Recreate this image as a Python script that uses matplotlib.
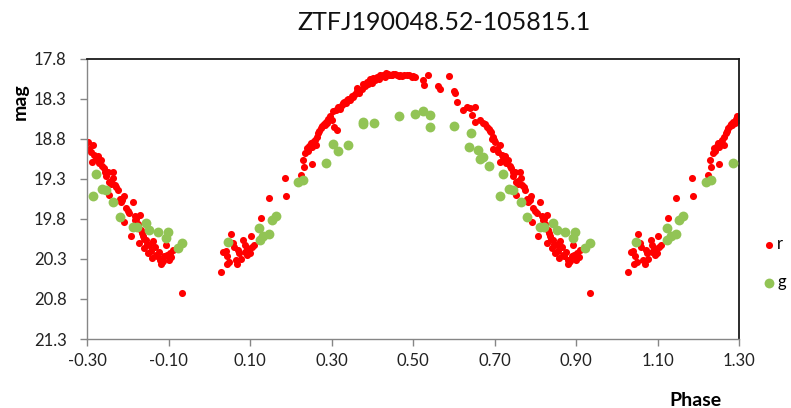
import matplotlib
matplotlib.use("Agg")
import matplotlib.pyplot as plt
import numpy as np

# ── Folded light curve, base phase 0..1 ──
r_phase = [0.028, 0.034, 0.040, 0.044, 0.042, 0.049, 0.053, 0.057, 0.060, 0.065,
           0.068, 0.071, 0.073, 0.077, 0.083, 0.086, 0.087, 0.091, 0.093, 0.099,
           0.102, 0.104, 0.108, 0.126, 0.145, 0.185, 0.188,
           0.224, 0.229, 0.235, 0.239, 0.245, 0.251, 0.255, 0.262, 0.251, 0.267,
           0.273, 0.280, 0.286, 0.292, 0.296, 0.300, 0.304, 0.311, 0.312, 0.306,
           0.316, 0.325, 0.330, 0.337, 0.345, 0.353, 0.361, 0.368, 0.374, 0.382,
           0.390, 0.398, 0.406, 0.415, 0.423, 0.431, 0.437, 0.445, 0.455, 0.464,
           0.232, 0.242, 0.258, 0.270, 0.283, 0.320, 0.334, 0.341, 0.349, 0.358,
           0.365, 0.378, 0.386, 0.394, 0.402, 0.410, 0.419, 0.427, 0.441, 0.450,
           0.460, 0.472, 0.484, 0.496, 0.505, 0.525, 0.527, 0.537, 0.562, 0.566,
           0.588, 0.601, 0.603, 0.608, 0.623, 0.631, 0.640, 0.652, 0.644, 0.652,
           0.664, 0.672, 0.681, 0.689, 0.694, 0.695, 0.468, 0.478, 0.490, 0.500,
           0.690, 0.695, 0.701, 0.705, 0.713, 0.717, 0.721, 0.728, 0.734, 0.712,
           0.740, 0.746, 0.753, 0.762, 0.764, 0.771, 0.753, 0.775, 0.789, 0.783,
           0.795, 0.812, 0.803, 0.791, 0.816, 0.824, 0.829, 0.832, 0.807, 0.836,
           0.828, 0.844, 0.852, 0.840, 0.848, 0.861, 0.865, 0.859, 0.875, 0.879,
           0.883, 0.889, 0.893, 0.900, 0.903, 0.910, 0.933,
           0.676, 0.685, 0.698, 0.708, 0.725, 0.737, 0.750, 0.758, 0.768, 0.779,
           0.800, 0.820, 0.834, 0.846, 0.856, 0.870, 0.886, 0.896, 0.906,
           0.248, 0.264, 0.277, 0.289, 0.328, 0.362, 0.396, 0.433, 0.448, 0.744,
           0.757, 0.786, 0.818, 0.838, 0.868, 0.881]
r_mag = [20.46, 20.22, 20.20, 20.26, 20.36, 20.34, 19.99, 20.10, 20.15, 20.31,
         20.36, 20.19, 20.23, 20.30, 20.06, 20.13, 20.21, 20.17, 20.25, 20.23,
         20.02, 20.15, 20.13, 19.79, 19.54, 19.29, 19.52,
         19.25, 19.07, 18.98, 18.92, 18.89, 18.91, 18.84, 18.88, 19.12, 18.73,
         18.67, 18.62, 18.59, 18.56, 18.52, 18.57, 18.46, 18.44, 18.69, 18.65,
         18.40, 18.38, 18.34, 18.32, 18.32, 18.28, 18.21, 18.23, 18.18, 18.14,
         18.12, 18.10, 18.07, 18.05, 18.02, 18.03, 17.99, 18.01, 17.99, 18.02,
         19.15, 18.95, 18.82, 18.70, 18.63, 18.43, 18.36, 18.30, 18.27, 18.24,
         18.19, 18.12, 18.09, 18.06, 18.04, 18.03, 18.00, 18.00, 18.00, 17.99,
         18.01, 18.02, 18.01, 18.03, 18.03, 18.07, 18.13, 18.01, 18.14, 18.18,
         18.02, 18.20, 18.23, 18.34, 18.44, 18.40, 18.42, 18.40, 18.50, 18.59,
         18.57, 18.61, 18.65, 18.71, 18.80, 18.93, 18.00, 18.00, 18.01, 18.02,
         18.72, 18.78, 18.84, 18.93, 18.88, 19.00, 19.06, 19.11, 19.07, 19.09,
         19.17, 19.27, 19.34, 19.21, 19.29, 19.40, 19.50, 19.44, 19.51, 19.59,
         19.67, 19.59, 19.73, 19.84, 19.77, 19.86, 19.75, 19.94, 20.02, 20.02,
         20.10, 20.06, 20.13, 20.17, 20.23, 20.08, 20.15, 20.29, 20.21, 20.31,
         20.34, 20.27, 20.13, 20.31, 20.23, 20.19, 20.73,
         18.62, 18.68, 18.82, 18.97, 19.02, 19.14, 19.22, 19.33, 19.38, 19.55,
         19.70, 19.80, 19.98, 20.12, 20.20, 20.26, 20.33, 20.25, 20.28,
         18.86, 18.78, 18.64, 18.61, 18.35, 18.17, 18.08, 17.98, 18.00, 19.22,
         19.36, 19.56, 19.82, 20.05, 20.25, 20.36]

g_phase = [0.046, 0.122, 0.124, 0.132, 0.145, 0.153, 0.163, 0.218, 0.230,
           0.286, 0.304, 0.316, 0.341, 0.376, 0.377, 0.404, 0.464, 0.505,
           0.525, 0.541, 0.541, 0.599, 0.642, 0.636, 0.660, 0.664, 0.672,
           0.687, 0.713, 0.721, 0.736, 0.746, 0.764, 0.779, 0.812, 0.821,
           0.843, 0.852, 0.873, 0.897, 0.893, 0.922, 0.933]
g_mag = [20.09, 19.91, 20.06, 20.02, 19.99, 19.81, 19.77, 19.34, 19.32,
         19.10, 18.87, 18.96, 18.88, 18.59, 18.62, 18.61, 18.52, 18.49,
         18.46, 18.50, 18.65, 18.64, 18.73, 18.90, 18.94, 19.06, 19.03,
         19.14, 19.51, 19.24, 19.43, 19.44, 19.59, 19.78, 19.90, 19.90,
         19.85, 19.94, 19.97, 19.96, 20.04, 20.17, 20.10]

X_MIN, X_MAX = -0.30, 1.30
x_ticks = [-0.30, -0.10, 0.10, 0.30, 0.50, 0.70, 0.90, 1.10, 1.30]
y_ticks = [17.8, 18.3, 18.8, 19.3, 19.8, 20.3, 20.8, 21.3]
TITLE = "ZTFJ190048.52-105815.1"

def fold(ph, mag):
    ph, mag = np.asarray(ph), np.asarray(mag)
    x = np.concatenate([ph - 1, ph, ph + 1])
    y = np.concatenate([mag, mag, mag])
    keep = (x >= X_MIN) & (x <= X_MAX)
    return x[keep], y[keep]

plt.rcParams["font.family"] = ["Lato", "DejaVu Sans"]

fig = plt.figure(figsize=(7.91, 4.08), dpi=100)
ax = fig.add_axes([0.1104, 0.1691, 0.8239, 0.6875])

rx, ry = fold(r_phase, r_mag)
gx, gy = fold(g_phase, g_mag)
ax.scatter(rx, ry, s=26, color="#ff0000", linewidths=0, label="r", zorder=2)
ax.scatter(gx, gy, s=50, color="#92c455", linewidths=0, label="g", zorder=3)

ax.set_xlim(X_MIN, X_MAX)
ax.set_ylim(21.3, 17.8)
ax.set_xticks(x_ticks)
ax.set_xticklabels([f"{t:.2f}" for t in x_ticks])
ax.set_yticks(y_ticks)
ax.set_yticklabels([f"{t:.1f}" for t in y_ticks])
ax.tick_params(direction="out", length=5, width=1, color="#868686",
               labelsize=12, labelcolor="#222222")
ax.tick_params(axis="y", pad=10)
ax.tick_params(axis="x", pad=5)

for side in ("top", "right"):
    ax.spines[side].set_color("#1a1a1a")
    ax.spines[side].set_linewidth(1.3)
for side in ("left", "bottom"):
    ax.spines[side].set_color("#868686")
    ax.spines[side].set_linewidth(1.0)

fig.text(0.5607, 0.945, TITLE, fontsize=18, color="#111111",
         ha="center", va="center")
fig.text(0.025, 0.75, "mag", rotation=90, fontsize=14, fontweight="bold",
         ha="center", va="center")
fig.text(0.8786, 0.006, "Phase", fontsize=14, fontweight="bold",
         ha="center", va="baseline")

fig.legend(loc="center left", bbox_to_anchor=(0.955, 0.355), frameon=False,
           handletextpad=0.1, labelspacing=1.3, fontsize=12,
           handlelength=0.8, borderaxespad=0)

fig.savefig("out.png", dpi=100, facecolor="white")
